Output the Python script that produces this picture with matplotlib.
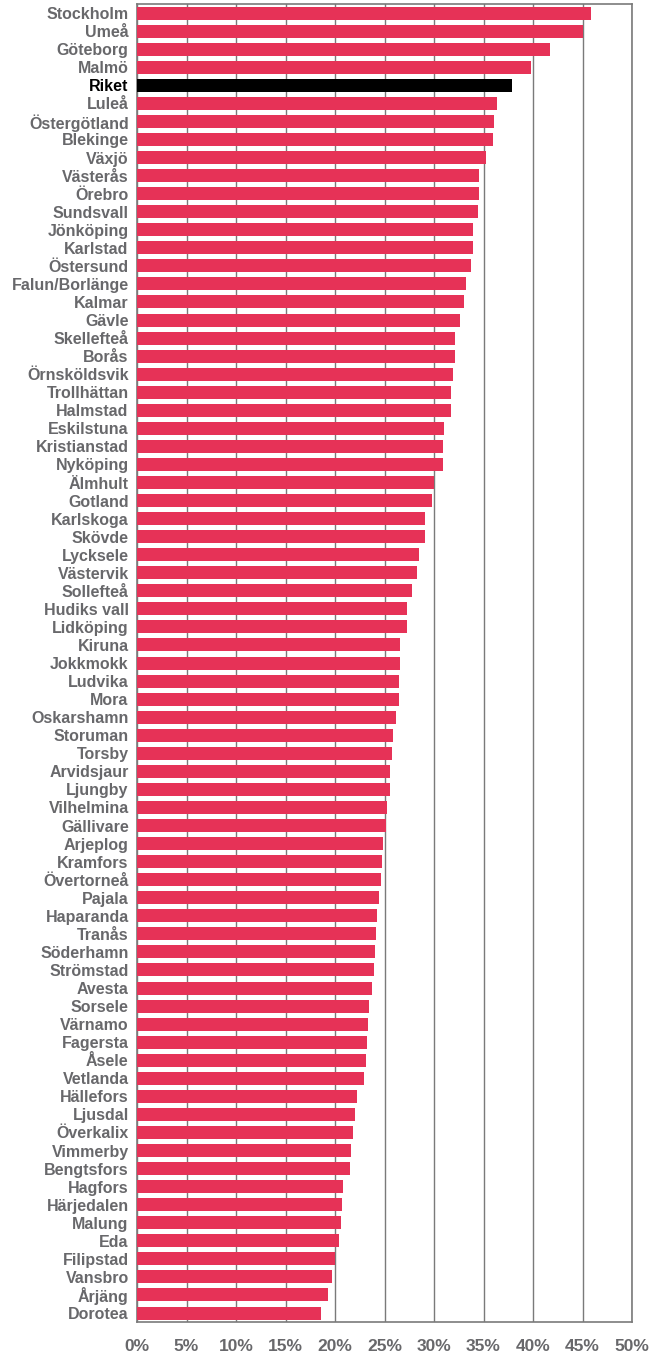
import numpy as np
import matplotlib.pyplot as plt
from matplotlib.ticker import PercentFormatter

# Values (percent)
regions = [
    "Stockholm", "Umeå", "Göteborg", "Malmö", "Riket", "Luleå", "Östergötland",
    "Blekinge", "Växjö", "Västerås", "Örebro", "Sundsvall", "Jönköping",
    "Karlstad", "Östersund", "Falun/Borlänge", "Kalmar", "Gävle", "Skellefteå",
    "Borås", "Örnsköldsvik", "Trollhättan", "Halmstad", "Eskilstuna",
    "Kristianstad", "Nyköping", "Älmhult", "Gotland", "Karlskoga", "Skövde",
    "Lycksele", "Västervik", "Sollefteå", "Hudiks vall", "Lidköping", "Kiruna",
    "Jokkmokk", "Ludvika", "Mora", "Oskarshamn", "Storuman", "Torsby",
    "Arvidsjaur", "Ljungby", "Vilhelmina", "Gällivare", "Arjeplog", "Kramfors",
    "Övertorneå", "Pajala", "Haparanda", "Tranås", "Söderhamn", "Strömstad",
    "Avesta", "Sorsele", "Värnamo", "Fagersta", "Åsele", "Vetlanda",
    "Hällefors", "Ljusdal", "Överkalix", "Vimmerby", "Bengtsfors", "Hagfors",
    "Härjedalen", "Malung", "Eda", "Filipstad", "Vansbro", "Årjäng", "Dorotea",
]
shares = [
    45.9, 45.0, 41.7, 39.8, 37.9, 36.4, 36.1,
    36.0, 35.2, 34.5, 34.5, 34.4, 33.9,
    33.9, 33.7, 33.2, 33.0, 32.6, 32.1,
    32.1, 31.9, 31.7, 31.7, 31.0,
    30.9, 30.9, 30.0, 29.8, 29.1, 29.1,
    28.5, 28.3, 27.8, 27.3, 27.3, 26.6,
    26.6, 26.5, 26.5, 26.2, 25.9, 25.8,
    25.6, 25.5, 25.2, 25.1, 24.8, 24.7,
    24.6, 24.4, 24.2, 24.1, 24.0, 23.9,
    23.7, 23.4, 23.3, 23.2, 23.1, 22.9,
    22.2, 22.0, 21.8, 21.6, 21.5, 20.8,
    20.7, 20.6, 20.4, 20.0, 19.7, 19.3, 18.6,
]
highlight = "Riket"

red = "#e63257"
grey_text = "#68686b"
grid_col = "#7a7a7a"

plt.rcParams["font.family"] = ["Liberation Sans", "DejaVu Sans"]

fig = plt.figure(figsize=(6.54, 13.54), dpi=100)
ax = fig.add_axes([0.2095, 0.0236, 0.757, 0.9734])

y = np.arange(len(regions))
colors = ["black" if r == highlight else red for r in regions]
ax.barh(y, shares, height=0.72, color=colors, zorder=3)

ax.set_xlim(0, 50)
ax.set_ylim(len(regions) - 0.5, -0.5)
ax.set_xticks(np.arange(0, 51, 5))
ax.xaxis.set_major_formatter(PercentFormatter(decimals=0))
ax.grid(axis="x", color=grid_col, linewidth=1.0, zorder=0)

ax.set_yticks(y)
ax.set_yticklabels(regions, fontsize=11.5, fontweight="bold")
for lbl in ax.get_yticklabels():
    lbl.set_color("black" if lbl.get_text() == highlight else grey_text)
for lbl in ax.get_xticklabels():
    lbl.set_fontsize(12.5)
    lbl.set_fontweight("bold")
    lbl.set_color(grey_text)

ax.tick_params(axis="both", length=0)
ax.tick_params(axis="y", pad=6)
ax.tick_params(axis="x", pad=12)
for s in ax.spines.values():
    s.set_color(grid_col)
    s.set_linewidth(1.2)

fig.savefig("out.png", dpi=100)
